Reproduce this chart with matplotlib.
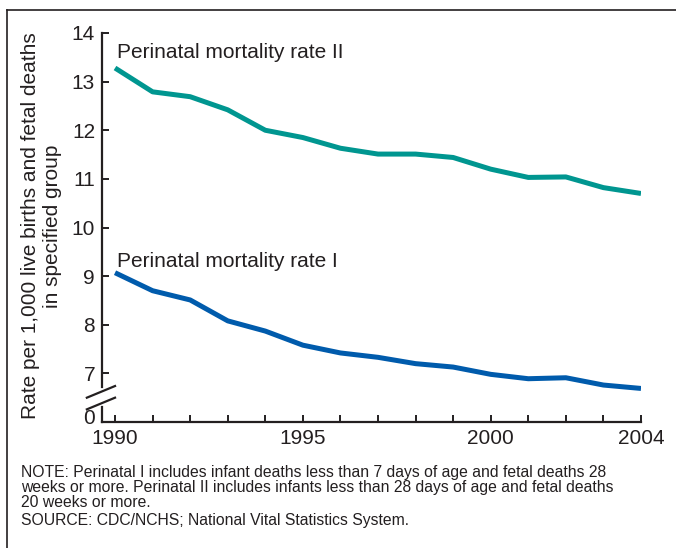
import numpy as np
import matplotlib.pyplot as plt
import matplotlib.transforms as mtransforms
from matplotlib.lines import Line2D

plt.rcParams['font.family'] = ['Liberation Sans', 'DejaVu Sans']

# data
years = list(range(1990, 2005))
rate_2 = [13.28, 12.79, 12.69, 12.42, 12.0, 11.85, 11.63, 11.51, 11.51, 11.44,
          11.2, 11.03, 11.04, 10.82, 10.70]
rate_1 = [9.07, 8.70, 8.51, 8.08, 7.87, 7.58, 7.42, 7.33, 7.20, 7.13,
          6.98, 6.89, 6.91, 6.76, 6.69]
yticks = [6, 7, 8, 9, 10, 11, 12, 13, 14]
ytick_labels = ['0', '7', '8', '9', '10', '11', '12', '13', '14']
xtick_labels = [1990, 1995, 2000, 2004]

note_lines = [
    'NOTE: Perinatal I includes infant deaths less than 7 days of age and fetal deaths 28',
    'weeks or more. Perinatal II includes infants less than 28 days of age and fetal deaths',
    '20 weeks or more.',
    'SOURCE: CDC/NCHS; National Vital Statistics System.',
]

W, H = 676, 548
INK = '#231f20'
fig = plt.figure(figsize=(W / 100, H / 100), dpi=100)
ax = fig.add_axes([102 / W, 1 - 422 / H, (641 - 102) / W, (422 - 33) / H])

def px(x, y):
    return x / W, 1 - y / H

ax.plot(years, rate_2, color='#009690', lw=3.6, solid_capstyle='butt')
ax.plot(years, rate_1, color='#005BAC', lw=3.6, solid_capstyle='butt')

ax.set_xlim(1990 - 13 / 37.5, 2004)
ax.set_ylim(6, 14)
ax.set_yticks(yticks)
ax.set_yticklabels(ytick_labels)
ax.set_xticks(years)
ax.set_xticklabels([str(y) if y in xtick_labels else '' for y in years])

for s in ['top', 'right']:
    ax.spines[s].set_visible(False)
for s in ['left', 'bottom']:
    ax.spines[s].set_linewidth(1.6)
    ax.spines[s].set_color(INK)
ax.tick_params(direction='in', length=5, width=1.4, color=INK,
               labelsize=15, labelcolor=INK)
ax.tick_params(axis='y', pad=5)
ax.tick_params(axis='x', pad=5)

# lift the "0" label a little so it clears 1990
zero = ax.get_yticklabels()[0]
zero.set_transform(zero.get_transform() +
                   mtransforms.ScaledTranslation(0, 4 / 72, fig.dpi_scale_trans))

# axis break
ax.spines['left'].set_bounds(6, 6.3)
ax.plot([1989.65, 1989.65], [6.72, 14], color=INK, lw=1.6, clip_on=False)
for yb in [6.38, 6.62]:
    ax.plot([1989.25, 1990.0], [yb - 0.12, yb + 0.12], color=INK, lw=1.6,
            clip_on=False)

fig.text(*px(117, 58), 'Perinatal mortality rate II', fontsize=15,
         color=INK, va='baseline')
fig.text(*px(117, 267), 'Perinatal mortality rate I', fontsize=15,
         color=INK, va='baseline')

fig.text(*px(36, 226), 'Rate per 1,000 live births and fetal deaths',
         rotation=90, rotation_mode='anchor', ha='center', va='baseline',
         fontsize=15, color=INK)
fig.text(*px(58, 226), 'in specified group',
         rotation=90, rotation_mode='anchor', ha='center', va='baseline',
         fontsize=15, color=INK)

for line, yb in zip(note_lines, [477, 492, 507, 525]):
    fig.text(*px(21, yb), line, fontsize=11.3, color=INK, va='baseline')

# frame
fig.add_artist(Line2D([7 / W, 1], [1 - 10 / H, 1 - 10 / H], color=INK,
                      lw=1.2, transform=fig.transFigure))
fig.add_artist(Line2D([7 / W, 7 / W], [0, 1 - 10 / H], color=INK,
                      lw=1.2, transform=fig.transFigure))

fig.savefig('out.png', dpi=100)
